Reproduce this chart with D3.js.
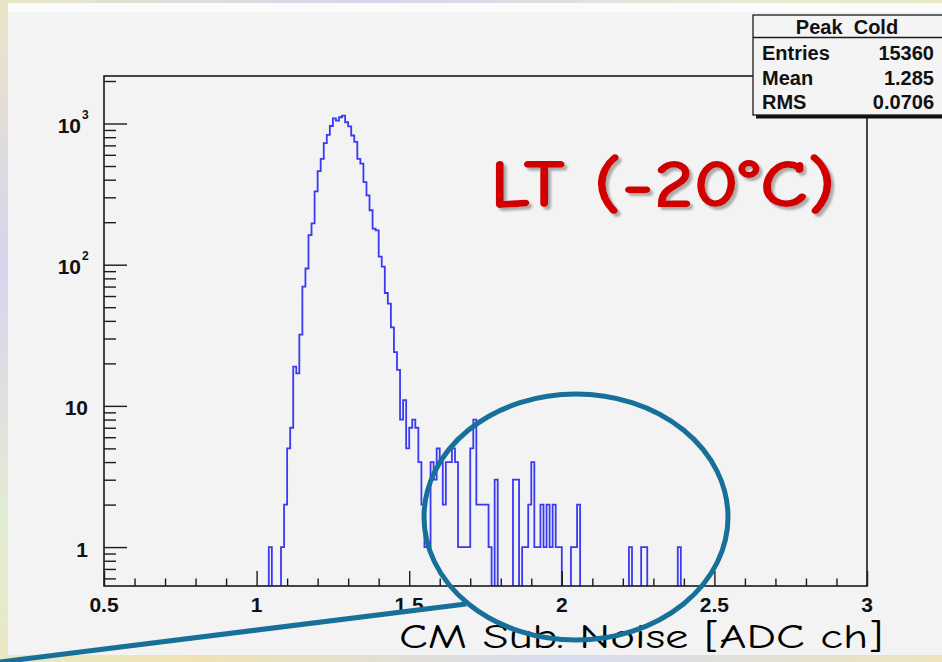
<!DOCTYPE html>
<html>
<meta charset="utf-8">
<head>
<script src="https://cdn.jsdelivr.net/npm/d3@7"></script>
<style>
body { margin: 0; overflow: hidden; }
svg { display: block; }
.lbl { font-family: "Liberation Sans", Arial, sans-serif; font-weight: bold; fill: #111; }
.comic { font-family: "Comic Sans MS", "Comic Neue", "DejaVu Sans", sans-serif; }
</style>
</head>
<body>
<script>
// histogram: counts per 0.01 bin, starting at 1.04
var firstBin = 1.04;
var binWidth = 0.01;
var counts = [
  1, 0, 0, 0, 1, 2, 5, 7, 19, 17,
  32, 70, 94, 162, 196, 331, 460, 562, 725, 830,
  960, 1088, 1048, 1107, 1137, 1021, 955, 822, 741, 562,
  519, 385, 310, 243, 180, 175, 114, 97, 63, 53,
  36, 24, 18, 8, 11, 5, 7, 8, 7, 4,
  2, 1, 1, 4, 3, 5, 4, 2, 4, 4,
  5, 4, 1, 1, 1, 1, 5, 8, 2, 2,
  2, 2, 1, 0, 3, 0, 0, 0, 0, 0,
  3, 3, 0, 1, 1, 2, 4, 1, 1, 2,
  1, 2, 1, 2, 1, 1, 0, 0, 0, 1,
  1, 2, 0, 0, 0, 0, 0, 0, 0, 0,
  0, 0, 0, 0, 0, 0, 0, 0, 1, 0,
  0, 0, 1, 1, 0, 0, 0, 0, 0, 0,
  0, 0, 0, 0, 1
];

var xDomain = [0.5, 3];
var yDomain = [0.53, 2170];
var xMajor = [0.5, 1, 1.5, 2, 2.5, 3];
var xMajorLabels = ["0.5", "1", "1.5", "2", "2.5", "3"];
var yMajor = [1, 10, 100, 1000];
var yLabelBase = ["1", "10", "10", "10"];
var yLabelExp = ["", "", "2", "3"];

var statsTitle = "Peak  Cold";
var statsNames = ["Entries", "Mean", "RMS"];
var statsValues = ["15360", "1.285", "0.0706"];

var tempLabel = "LT (-20\u00b0C)";
var xTitle = "CM Sub. Noise [ADC ch]";

var W = 942, H = 662;
var frame = {left: 104, right: 867, top: 76, bottom: 586};

var svg = d3.select("body").append("svg")
  .attr("width", W).attr("height", H);

// slide background
var defs = svg.append("defs");
var grad = defs.append("linearGradient").attr("id", "bg")
  .attr("x1", "0%").attr("y1", "0%").attr("x2", "100%").attr("y2", "100%");
[["0%", "#e9e6c6"], ["20%", "#d9d3ee"], ["40%", "#e3edd2"], ["60%", "#efe3b4"], ["80%", "#d7dcf0"], ["100%", "#eee4bd"]]
  .forEach(function(s){ grad.append("stop").attr("offset", s[0]).attr("stop-color", s[1]); });
var shadow = defs.append("filter").attr("id", "shadow")
  .attr("x", "-5%").attr("y", "-10%").attr("width", "115%").attr("height", "130%");
shadow.append("feDropShadow").attr("dx", 3).attr("dy", 3).attr("stdDeviation", 0.8)
  .attr("flood-color", "#9a9a9a").attr("flood-opacity", 0.8);

svg.append("rect").attr("width", W).attr("height", H).attr("fill", "url(#bg)");
svg.append("rect").attr("x", 8).attr("y", 3).attr("width", W - 8).attr("height", 10).attr("fill", "#fbfbfb");
svg.append("rect").attr("x", 8).attr("y", 12).attr("width", W - 8).attr("height", 643).attr("fill", "#f3f3f3");

defs.append("clipPath").attr("id", "frameclip").append("rect")
  .attr("x", frame.left).attr("y", frame.top)
  .attr("width", frame.right - frame.left).attr("height", frame.bottom - frame.top);

var x = d3.scaleLinear().domain(xDomain).range([frame.left, frame.right]);
var y = d3.scaleLog().domain(yDomain).range([frame.bottom, frame.top]);

// histogram outline (empty bins sit on the frame bottom)
var pts = [[xDomain[0], 0]]
  .concat(counts.map(function(c, i){ return [firstBin + i * binWidth, c]; }))
  .concat([[firstBin + counts.length * binWidth, 0], [xDomain[1], 0]]);
var line = d3.line()
  .x(function(d){ return x(d[0]); })
  .y(function(d){ return d[1] > 0 ? y(d[1]) : frame.bottom + 4; })
  .curve(d3.curveStepAfter);
svg.append("path")
  .attr("clip-path", "url(#frameclip)")
  .attr("d", line(pts))
  .attr("fill", "none")
  .attr("stroke", "#3a3af2")
  .attr("stroke-width", 1.8);

// frame
svg.append("rect")
  .attr("x", frame.left).attr("y", frame.top)
  .attr("width", frame.right - frame.left).attr("height", frame.bottom - frame.top)
  .attr("fill", "none").attr("stroke", "#1a1a1a").attr("stroke-width", 1.6);

// x axis ticks
var xMinor = d3.range(6, 30).map(function(k){ return k / 10; }).filter(function(v){ return Math.abs(v * 2 - Math.round(v * 2)) > 1e-6; });
var xAxisMajor = d3.axisTop(x).tickValues(xMajor).tickSize(15).tickFormat("");
var xAxisMinor = d3.axisTop(x).tickValues(xMinor).tickSize(7.5).tickFormat("");
[xAxisMajor, xAxisMinor].forEach(function(ax){
  var g = svg.append("g").attr("transform", "translate(0," + frame.bottom + ")").call(ax);
  g.select(".domain").remove();
  g.selectAll("line").attr("stroke", "#1a1a1a").attr("stroke-width", 1.4);
});
svg.selectAll(".xlab").data(xMajor).enter().append("text")
  .attr("class", "lbl")
  .attr("x", function(d){ return x(d); })
  .attr("y", 612)
  .attr("text-anchor", "middle")
  .attr("font-size", 21)
  .text(function(d, i){ return xMajorLabels[i]; });

// y axis ticks (log)
var yMinor = [];
[0.1, 1, 10, 100, 1000].forEach(function(dec){
  for (var k = 2; k <= 9; k++) {
    var v = dec * k;
    if (v >= yDomain[0] && v <= yDomain[1]) yMinor.push(v);
  }
});
var yAxisMajor = d3.axisRight(y).tickValues(yMajor).tickSize(23).tickFormat("");
var yAxisMinor = d3.axisRight(y).tickValues(yMinor).tickSize(12).tickFormat("");
[yAxisMajor, yAxisMinor].forEach(function(ax){
  var g = svg.append("g").attr("transform", "translate(" + frame.left + ",0)").call(ax);
  g.select(".domain").remove();
  g.selectAll("line").attr("stroke", "#1a1a1a").attr("stroke-width", 1.4);
});
svg.selectAll(".ylab").data(yMajor).enter().append("text")
  .attr("class", "lbl")
  .attr("x", function(d, i){ return yLabelExp[i] ? 81 : 88; })
  .attr("y", function(d){ return y(d) + 9.5; })
  .attr("text-anchor", "end")
  .attr("font-size", 21)
  .text(function(d, i){ return yLabelBase[i]; });
svg.selectAll(".yexp").data(yMajor.filter(function(d, i){ return yLabelExp[i]; })).enter().append("text")
  .attr("class", "lbl")
  .attr("x", 82)
  .attr("y", function(d){ return y(d) - 5; })
  .attr("font-size", 12)
  .text(function(d){ return yLabelExp[yMajor.indexOf(d)]; });

// stats box
var sb = svg.append("g");
sb.append("rect").attr("x", 756).attr("y", 115).attr("width", 200).attr("height", 3.5).attr("fill", "#111");
sb.append("rect").attr("x", 753).attr("y", 15).attr("width", 200).attr("height", 100)
  .attr("fill", "#f4f4f4").attr("stroke", "#1a1a1a").attr("stroke-width", 1.3);
sb.append("line").attr("x1", 753).attr("x2", W).attr("y1", 37.5).attr("y2", 37.5)
  .attr("stroke", "#1a1a1a").attr("stroke-width", 1.3);
sb.append("text").attr("class", "lbl").attr("x", 847).attr("y", 34)
  .attr("text-anchor", "middle").attr("font-size", 20).attr("xml:space", "preserve").text(statsTitle);
sb.selectAll(".sn").data(statsNames).enter().append("text")
  .attr("class", "lbl").attr("x", 762).attr("y", function(d, i){ return 60 + i * 24.7; })
  .attr("font-size", 20).text(function(d){ return d; });
sb.selectAll(".sv").data(statsValues).enter().append("text")
  .attr("class", "lbl").attr("x", 934).attr("y", function(d, i){ return 60 + i * 24.7; })
  .attr("text-anchor", "end").attr("font-size", 20).text(function(d){ return d; });

// temperature label
svg.append("text").attr("class", "comic")
  .attr("x", 490).attr("y", 207)
  .attr("font-size", 68).attr("font-weight", "bold")
  .attr("textLength", 346).attr("lengthAdjust", "spacingAndGlyphs")
  .attr("fill", "#d10000").attr("filter", "url(#shadow)").text(tempLabel);

// axis title
svg.append("text").attr("class", "comic")
  .attr("x", 399).attr("y", 648)
  .attr("font-size", 35)
  .attr("textLength", 484).attr("lengthAdjust", "spacingAndGlyphs")
  .attr("fill", "#000").text(xTitle);

// highlight ellipse and pointer line
var note = {cx: 576, cy: 517, rx: 152, ry: 123, color: "#16709a"};
svg.append("ellipse")
  .attr("cx", note.cx).attr("cy", note.cy).attr("rx", note.rx).attr("ry", note.ry)
  .attr("fill", "none").attr("stroke", note.color).attr("stroke-width", 5);
svg.append("line")
  .attr("x1", 466).attr("y1", 604).attr("x2", 0).attr("y2", 662)
  .attr("stroke", note.color).attr("stroke-width", 5);
</script>
</body>
</html>
